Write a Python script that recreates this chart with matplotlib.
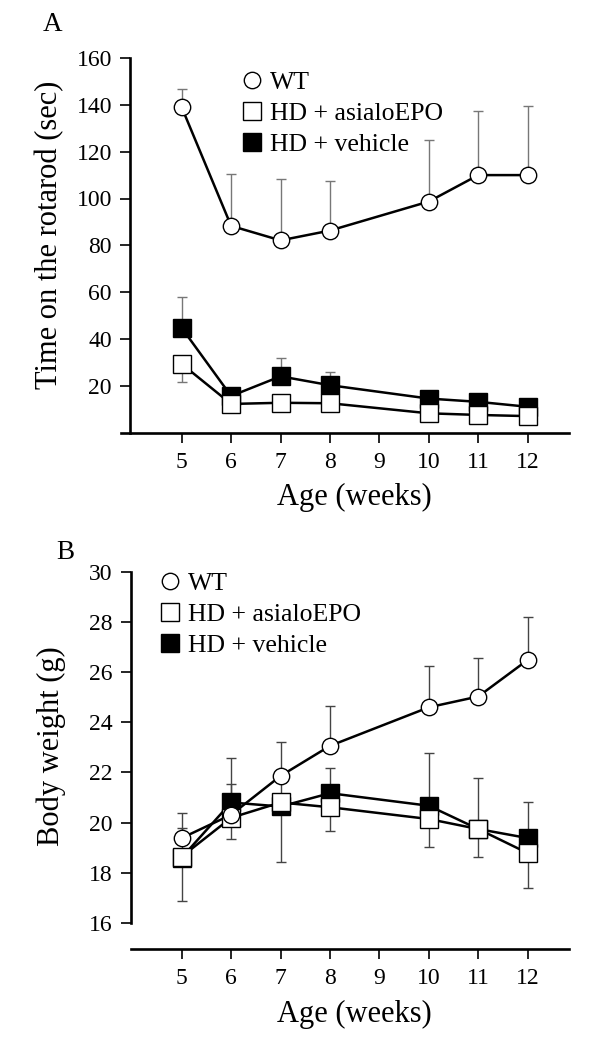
import matplotlib
matplotlib.use("Agg")
import matplotlib.pyplot as plt
from matplotlib.lines import Line2D

plt.rcParams["font.family"] = ["Liberation Serif", "DejaVu Serif"]

# ages shared by both panels
weeks = [5, 6, 7, 8, 10, 11, 12]
xticks = [5, 6, 7, 8, 9, 10, 11, 12]

# panel A: rotarod (sec)
rot_wt = [139.0, 88.3, 82.1, 86.3, 98.7, 110.0, 110.0]
rot_wt_err = [7.7, 22.2, 26.3, 21.0, 26.2, 27.3, 29.4]
rot_asialo = [29.3, 12.2, 12.7, 12.5, 8.2, 7.5, 7.0]
rot_asialo_err = [7.7, 1.5, 1.5, 1.5, 1.0, 1.0, 1.0]
rot_vehicle = [44.7, 15.6, 24.0, 20.2, 14.5, 13.1, 11.0]
rot_vehicle_err = [13.0, 2.0, 7.8, 5.5, 2.5, 2.0, 1.5]

# panel B: body weight (g)
bw_wt = [19.38, 20.31, 21.86, 23.06, 24.6, 25.03, 26.49]
bw_wt_err = [1.02, 1.22, 1.34, 1.61, 1.65, 1.53, 1.71]
bw_asialo = [18.64, 20.19, 20.8, 20.61, 20.14, 19.74, 18.78]
bw_asialo_err = [1.79, 0.84, 2.38, 0.95, 1.1, 1.12, 1.4]
bw_vehicle = [18.6, 20.8, 20.64, 21.17, 20.67, 19.74, 19.38]
bw_vehicle_err = [1.17, 1.77, 1.4, 1.0, 2.12, 2.03, 1.43]

labels = ["WT", "HD + asialoEPO", "HD + vehicle"]

W, H = 600, 1038
fig = plt.figure(figsize=(W / 100, H / 100), dpi=100)

SQ = 12.5   # square marker size
CI = 11.8   # circle marker size


def px_axes(left, right, top, bottom):
    return fig.add_axes([left / W, 1 - bottom / H, (right - left) / W, (bottom - top) / H])


def draw_series(ax, y, err, direction, ecolor):
    zeros = [0] * len(err)
    yerr = [zeros, err] if direction == "up" else [err, zeros]
    ax.errorbar(weeks, y, yerr=yerr, fmt="none", ecolor=ecolor, elinewidth=1.0,
                capsize=3.6, capthick=1.0, zorder=1)
    ax.plot(weeks, y, color="black", lw=1.8, zorder=2)


def draw_markers(ax, y, marker, face, ms, z):
    ax.plot(weeks, y, ls="none", marker=marker, ms=ms, mfc=face, mec="black",
            mew=1.0, zorder=z)


def style(ax, ylabel, yticks):
    for s in ["top", "right"]:
        ax.spines[s].set_visible(False)
    ax.spines["left"].set_linewidth(1.9)
    ax.spines["bottom"].set_linewidth(1.9)
    ax.set_xticks(xticks)
    ax.set_yticks(yticks)
    ax.tick_params(axis="both", direction="out", length=7.2, width=1.2, labelsize=17)
    ax.tick_params(axis="x", pad=6.5)
    ax.tick_params(axis="y", pad=5.8)
    ax.set_xlabel("Age (weeks)", fontsize=22)
    ax.set_ylabel(ylabel, fontsize=22)


def add_legend(ax, left_px, top_px):
    handles = [
        Line2D([], [], ls="none", marker="o", ms=CI, mfc="white", mec="black", mew=1.0),
        Line2D([], [], ls="none", marker="s", ms=SQ, mfc="white", mec="black", mew=1.0),
        Line2D([], [], ls="none", marker="s", ms=SQ, mfc="black", mec="black", mew=1.0),
    ]
    ax.legend(handles, labels, loc="upper left",
              bbox_to_anchor=(left_px / W, 1 - top_px / H),
              bbox_transform=fig.transFigure, frameon=False, fontsize=18.5,
              handlelength=0.8, handletextpad=0.29, labelspacing=0.31,
              borderpad=0, borderaxespad=0)


# ---- panel A ----
axA = px_axes(120.7, 569.3, 58.1, 432.5)
axA.set_xlim(3.766, 12.842)
axA.set_ylim(0, 160)
axA.spines["left"].set_position(("data", 3.954))
axA.spines["left"].set_bounds(0, 160)
draw_series(axA, rot_vehicle, rot_vehicle_err, "up", "#777777")
draw_series(axA, rot_asialo, rot_asialo_err, "down", "#777777")
draw_series(axA, rot_wt, rot_wt_err, "up", "#777777")
draw_markers(axA, rot_vehicle, "s", "black", SQ, 3)
draw_markers(axA, rot_asialo, "s", "white", SQ, 4)
draw_markers(axA, rot_wt, "o", "white", CI, 5)
style(axA, "Time on the rotarod (sec)", [20, 40, 60, 80, 100, 120, 140, 160])
axA.xaxis.set_label_coords((354 - 120.7) / (569.3 - 120.7), -(483 - 432.5) / (432.5 - 58.1))
axA.yaxis.set_label_coords((64 - 120.7) / (569.3 - 120.7), (432.5 - 235) / (432.5 - 58.1))
add_legend(axA, 242, 71)
fig.text(42.7 / W, 1 - 24.7 / H, "A", fontsize=19.5, va="center", ha="left")

# ---- panel B ----
axB = px_axes(130.7, 569.3, 572, 949.3)
axB.set_xlim(3.968, 12.842)
axB.set_ylim(14.94, 30)
axB.spines["left"].set_bounds(16, 30)
draw_series(axB, bw_vehicle, bw_vehicle_err, "up", "#444444")
draw_series(axB, bw_asialo, bw_asialo_err, "down", "#444444")
draw_series(axB, bw_wt, bw_wt_err, "up", "#444444")
draw_markers(axB, bw_vehicle, "s", "black", SQ, 3)
draw_markers(axB, bw_asialo, "s", "white", SQ, 4)
draw_markers(axB, bw_wt, "o", "white", CI, 5)
style(axB, "Body weight (g)", [16, 18, 20, 22, 24, 26, 28, 30])
axB.xaxis.set_label_coords((354 - 130.7) / (569.3 - 130.7), -(1000 - 949.3) / (949.3 - 572))
axB.yaxis.set_label_coords((66 - 130.7) / (569.3 - 130.7), (949.3 - 746.5) / (949.3 - 572))
add_legend(axB, 160, 572)
fig.text(56 / W, 1 - 552.3 / H, "B", fontsize=19.5, va="center", ha="left")

fig.savefig("out.png", dpi=100, facecolor="white")
